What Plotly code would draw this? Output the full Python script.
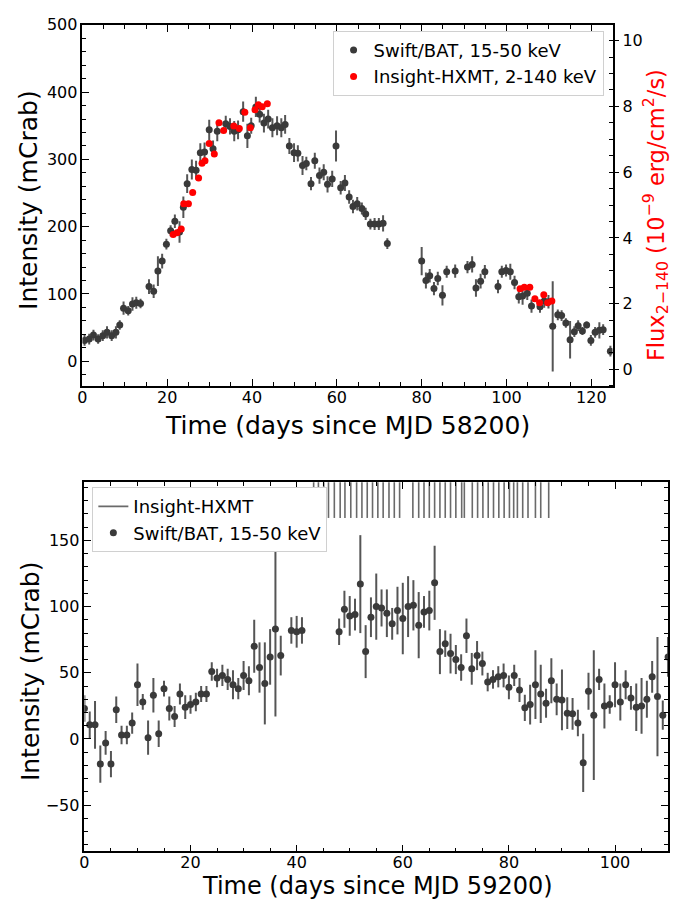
import plotly.graph_objects as go

# ---------------- top panel data (MJD 58200) ----------------
bat1_day = [0.5, 1.6, 2.6, 3.7, 4.8, 5.8, 6.9, 7.9, 8.8, 9.7, 10.8, 11.8, 12.7, 13.7,
            15.7, 16.8, 17.8, 18.8, 19.8, 20.8, 21.8, 22.9, 23.8, 24.7, 25.8, 26.8,
            27.8, 28.8, 29.9, 30.8, 31.8, 33.8, 34.8, 35.8, 36.7, 37.9, 38.9, 39.8,
            40.9, 41.8, 42.8, 43.8, 44.8, 45.9, 46.9, 47.8, 48.8, 49.9, 50.8, 51.9,
            52.8, 53.9, 54.8, 55.9, 56.9, 57.8, 58.9, 59.8, 60.9, 61.9, 62.9, 63.8,
            64.8, 65.9, 66.8, 67.9, 68.9, 69.9, 70.9, 71.9, 80.0, 81.0, 81.9, 82.9,
            83.8, 84.9, 85.9, 87.9, 90.8, 91.9, 92.8, 93.9, 94.9, 98.0, 98.9, 99.9,
            100.9, 101.9, 102.9, 103.8, 104.9, 105.9, 107.9, 108.9, 109.9, 110.9,
            112.1, 113.0, 114.0, 115.0, 116.0, 116.9, 117.9, 118.9, 119.9, 120.9,
            121.9, 122.8, 124.5]
bat1_val = [31, 33, 39, 33, 38, 43, 38, 43, 54, 79, 75, 85, 87, 86,
            111, 104, 134, 149, 174, 194, 208, 192, 229, 264, 285, 284,
            310, 311, 344, 316, 342, 353, 349, 342, 344, 371, 335, 350,
            378, 367, 354, 360, 347, 350, 347, 352, 320, 310, 309, 291,
            294, 264, 298, 276, 281, 263, 271, 320, 258, 265, 244, 230,
            234, 227, 219, 204, 204, 204, 205, 175, 149, 120, 127, 108,
            123, 98, 133, 134, 140, 144, 109, 119, 133, 111, 133, 135,
            133, 117, 96, 97, 101, 82, 81, 89.5, 88.5, 52,
            69, 68, 57, 32, 44, 53, 45, 54, 31, 43,
            46, 47, 15]
bat1_err = [8, 8, 8, 7, 8, 9, 8, 9, 7, 10, 7, 10, 9, 7,
            11, 10, 22, 11, 8, 8, 10, 16, 16, 14, 15, 14,
            14, 14, 15, 12, 15, 12, 12, 15, 14, 15, 18, 12,
            15, 12, 14, 14, 14, 14, 14, 14, 12, 14, 12, 14,
            10, 10, 12, 12, 12, 12, 12, 23, 10, 12, 10, 10,
            10, 9, 9, 8, 9, 9, 12, 8, 21, 12, 10, 10,
            10, 15, 9, 10, 9, 12, 13, 11, 10, 10, 9, 9,
            12, 10, 10, 13, 10, 10, 9, 10, 10, 67,
            8, 8, 7, 28, 8, 8, 6, 5, 8, 8,
            12, 8, 8]

hx1_day = [21.4, 22.3, 23.3, 23.9, 25.0, 26.0, 27.4, 28.2, 28.9, 29.9, 31.1, 32.2,
           33.3, 35.7, 37.0, 38.3, 39.6, 40.7, 41.5, 42.4, 43.6,
           103.2, 104.2, 105.5, 106.7, 107.8, 108.8, 109.7, 110.7]
hx1_flux = [4.10, 4.16, 4.27, 5.04, 5.04, 5.38, 5.82, 6.27, 6.35, 6.87, 6.55, 7.50,
            7.27, 7.40, 7.33, 7.82, 7.35, 7.90, 8.05, 7.99, 8.08,
            2.45, 2.50, 2.50, 2.15, 2.03, 2.27, 2.03, 2.08]

# ---------------- bottom panel data (MJD 59200) ----------------
bat2_day = [0, 1, 2, 3, 4, 5, 6, 7, 8, 9, 10, 11, 12, 13, 14, 15, 16, 17, 18, 19,
            20, 21, 22, 23, 24, 25, 26, 27, 28, 29, 30, 31, 32, 33, 34, 35, 36, 37,
            39, 40, 41, 48, 49, 50, 51, 52, 53, 54, 55, 56, 57, 58, 59, 60, 61, 62,
            63, 64, 65, 66, 67, 68, 69, 70, 71, 72, 73, 74, 75, 76, 77, 78, 79, 80,
            81, 82, 83, 84, 85, 86, 87, 88, 89, 90, 91, 92, 93, 94, 95, 96, 97, 98,
            99, 100, 101, 102, 103, 104, 105, 106, 107, 108, 109, 110]
bat2_val = [23, 10.7, 10.7, -19, -3, -19, 22, 3, 3, 12, 41, 28, 1, 33, 4, 38, 23, 17, 34, 24,
            26, 28, 34, 34, 51, 46, 48, 45, 41, 38, 48, 44, 70, 54, 42, 62, 83, 63,
            82, 81, 82, 81, 98, 93, 94, 117, 66, 92, 100, 99, 95, 87, 97, 91, 100, 101,
            86, 96, 97, 118, 66, 72, 64.5, 60, 54, 78, 53, 63, 57, 43, 45, 47, 48, 39,
            48, 37, 23.5, 26, 41, 34, 27, 44, 30, 29.5, 19.5, 19, 12, -18, 36, 18, 45, 25,
            26, 41, 28, 41, 31, 24, 25, 30, 47, 32, 18, 62]
bat2_err = [10, 10, 18, 14, 9, 10, 10, 7, 7, 8, 16, 6, 13, 13, 10, 6, 9, 8, 8, 9,
            7, 7, 6, 6, 7, 7, 8, 8, 11, 8, 11, 11, 20, 19, 31, 21, 66, 15,
            10, 12, 10, 10, 14, 15, 12, 37, 20, 15, 25, 14, 18, 12, 18, 27, 23, 19,
            25, 12, 15, 28, 17, 10, 15, 11, 10, 13, 12, 11, 9, 7, 7, 8, 9, 9,
            8, 9, 10, 15, 26, 22, 11, 17, 12, 23, 12, 12, 10, 22, 14, 49, 8, 17,
            7, 17, 14, 11, 9, 18, 21, 14, 12, 45, 11, 15]

hx2_obs = [43.2, 44.1, 45.1, 46.0, 47.1, 48.2, 49.1, 50.2, 51.3, 52.3, 53.3, 54.3,
           55.3, 56.3, 57.4, 58.4, 59.4, 61.9, 63.0, 64.0, 65.0, 66.0, 67.0, 68.0,
           69.0, 70.0, 71.1, 71.6, 73.1, 74.1, 75.1, 76.1, 77.1, 78.1, 79.1, 80.1,
           80.9, 81.6, 82.6, 83.6, 85.0, 86.0, 87.5]
hx2_ymin = 167
hx2_ymax = 210

PT = "#3a3a3a"
ERR = "#555555"
FONT = "DejaVu Sans"
W, H = 680, 899

fig = go.Figure()

fig.add_trace(go.Scatter(
    x=bat1_day, y=bat1_val, mode="markers", name="Swift/BAT, 15-50 keV",
    marker=dict(color=PT, size=7),
    error_y=dict(type="data", array=bat1_err, color=ERR, thickness=2, width=0),
    xaxis="x", yaxis="y", legend="legend"))
fig.add_trace(go.Scatter(
    x=hx1_day, y=hx1_flux, mode="markers", name="Insight-HXMT, 2-140 keV",
    marker=dict(color="#ff0000", size=7),
    xaxis="x", yaxis="y2", legend="legend"))

# bottom: HXMT observation markers as vertical lines
vx, vy = [], []
for d in hx2_obs:
    vx += [d, d, None]
    vy += [hx2_ymin, hx2_ymax, None]
fig.add_trace(go.Scatter(
    x=vx, y=vy, mode="lines", name="Insight-HXMT",
    line=dict(color="#6a6a6a", width=1.6),
    xaxis="x2", yaxis="y3", legend="legend2"))
fig.add_trace(go.Scatter(
    x=bat2_day, y=bat2_val, mode="markers", name="Swift/BAT, 15-50 keV",
    marker=dict(color=PT, size=7),
    error_y=dict(type="data", array=bat2_err, color=ERR, thickness=2, width=0),
    xaxis="x2", yaxis="y3", legend="legend2"))

tickfont = dict(family=FONT, size=16, color="black")
common = dict(showgrid=False, zeroline=False, showline=True, linecolor="black",
              linewidth=1.5, ticks="inside", ticklen=7, tickwidth=1.3,
              tickcolor="black", tickfont=tickfont)


def ann(text, x, y, size, color="black", angle=0):
    return dict(text=text, x=x / W, y=1 - y / H, xref="paper", yref="paper",
                xanchor="center", yanchor="middle", textangle=angle,
                showarrow=False, font=dict(family=FONT, size=size, color=color))


fig.update_layout(
    width=W, height=H, margin=dict(l=0, r=0, t=0, b=0),
    plot_bgcolor="white", paper_bgcolor="white",
    showlegend=True,
    xaxis=dict(domain=[78 / W, 612 / W], anchor="y", range=[0, 125],
               tickvals=[0, 20, 40, 60, 80, 100, 120], mirror="ticks",
               ticklabelstandoff=-4,
               minor=dict(dtick=5, ticks="inside", ticklen=4, tickcolor="black"),
               **common),
    yaxis=dict(domain=[1 - 381 / H, 1 - 16 / H], anchor="x", range=[-37, 500],
               tickvals=[0, 100, 200, 300, 400, 500], mirror=False,
               minor=dict(dtick=20, ticks="inside", ticklen=4, tickcolor="black"),
               **common),
    yaxis2=dict(overlaying="y", side="right", anchor="x", range=[-0.51, 10.48],
                tickvals=[0, 2, 4, 6, 8, 10], showgrid=False, zeroline=False,
                showline=True, linecolor="black", linewidth=1.5,
                ticks="outside", ticklen=5, tickwidth=1.3, tickcolor="black",
                tickfont=tickfont,
                minor=dict(dtick=0.5, ticks="inside", ticklen=4, tickcolor="black")),
    xaxis2=dict(domain=[80 / W, 668 / W], anchor="y3", range=[0, 110],
                tickvals=[0, 20, 40, 60, 80, 100], mirror="ticks",
                ticklabelstandoff=-4,
                minor=dict(dtick=5, ticks="inside", ticklen=4, tickcolor="black"),
                **common),
    yaxis3=dict(domain=[1 - 851 / H, 1 - 478 / H], anchor="x2", range=[-85, 194],
                tickvals=[-50, 0, 50, 100, 150], mirror="ticks",
                minor=dict(dtick=10, ticks="inside", ticklen=4, tickcolor="black"),
                **common),
    legend=dict(x=330 / W, y=1 - 22 / H, xanchor="left", yanchor="top",
                bgcolor="white", bordercolor="#d0d0d0", borderwidth=1,
                tracegroupgap=0, itemwidth=30,
                font=dict(family=FONT, size=18, color="black")),
    legend2=dict(x=88 / W, y=1 - 483 / H, xanchor="left", yanchor="top",
                 bgcolor="white", bordercolor="#d0d0d0", borderwidth=1,
                 tracegroupgap=0, itemwidth=30,
                 font=dict(family=FONT, size=18, color="black")),
    annotations=[
        ann("Intensity (mCrab)", 23, 193, 25, angle=-90),
        ann("Time (days since MJD 58200)", 345, 421, 25),
        ann("Flux<sub>2\u2212140</sub> (10<sup>\u22129</sup> erg/cm<sup>2</sup>/s)",
            656, 208, 22.5, color="#ff0000", angle=-90),
        ann("Intensity (mCrab)", 25, 669, 25, angle=-90),
        ann("Time (days since MJD 59200)", 375, 886, 24),
    ],
)

fig.write_html("out.html")
